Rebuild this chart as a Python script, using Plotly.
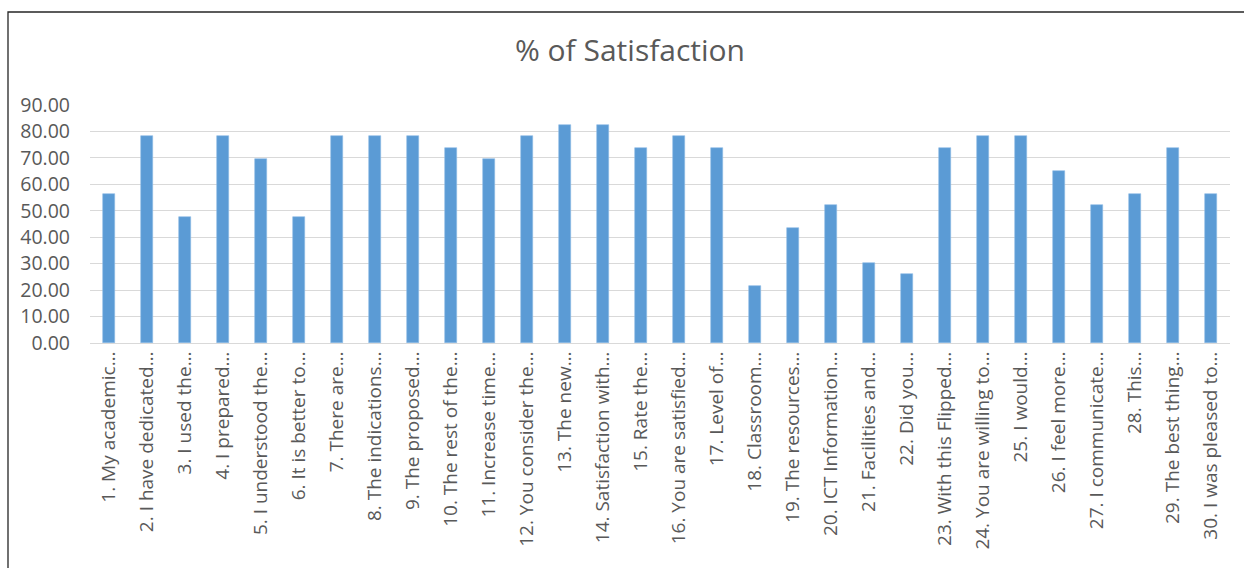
import plotly.graph_objects as go

# Survey items (truncated as shown on the axis) and % satisfaction per item
items = [
    "1. My academic…", "2. I have dedicated…", "3. I used the…", "4. I prepared…",
    "5. I understood the…", "6. It is better to…", "7. There are…", "8. The indications…",
    "9. The proposed…", "10. The rest of the…", "11. Increase time…", "12. You consider the…",
    "13. The new…", "14. Satisfaction with…", "15. Rate the…", "16. You are satisfied…",
    "17. Level of…", "18. Classroom…", "19. The resources…", "20. ICT Information…",
    "21. Facilities and…", "22. Did you…", "23. With this Flipped…", "24. You are willing to…",
    "25. I would…", "26. I feel more…", "27. I communicate…", "28. This…",
    "29. The best thing…", "30. I was pleased to…",
]
satisfaction = [
    56.52, 78.26, 47.83, 78.26, 69.57, 47.83, 78.26, 78.26, 78.26, 73.91,
    69.57, 78.26, 82.61, 82.61, 73.91, 78.26, 73.91, 21.74, 43.48, 52.17,
    30.43, 26.09, 73.91, 78.26, 78.26, 65.22, 52.17, 56.52, 73.91, 56.52,
]
y_ticks = [0, 10, 20, 30, 40, 50, 60, 70, 80, 90]

FONT = "Open Sans"
GREY = "#595959"

fig = go.Figure(
    go.Bar(
        x=list(range(len(items))),
        y=satisfaction,
        width=0.33,
        marker=dict(color="#5B9BD5", line=dict(color="#8DBBE6", width=0.6)),
        hoverinfo="y",
    )
)

W, H = 1244, 568
ml, mr, mt, mb = 90, 14, 105, 225
pw, ph = W - ml - mr, H - mt - mb

fig.update_layout(
    width=W,
    height=H,
    margin=dict(l=ml, r=mr, t=mt, b=mb),
    paper_bgcolor="white",
    plot_bgcolor="white",
    showlegend=False,
    bargap=0,
    title=dict(
        text="% of Satisfaction",
        x=630 / W,
        xanchor="center",
        y=1 - 50 / H,
        yanchor="middle",
        font=dict(family=FONT, size=30, color=GREY),
    ),
    xaxis=dict(
        range=[-0.5, len(items) - 0.5],
        tickmode="array",
        tickvals=list(range(len(items))),
        ticktext=items,
        tickangle=-90,
        tickfont=dict(family=FONT, size=19, color=GREY),
        showgrid=False,
        showline=True,
        linecolor="#D9D9D9",
        linewidth=1,
        ticks="",
        zeroline=False,
    ),
    yaxis=dict(
        range=[0, 90],
        tickmode="array",
        tickvals=y_ticks,
        ticktext=[f"{v:.2f}" for v in y_ticks],
        tickfont=dict(family=FONT, size=19.5, color=GREY),
        showgrid=True,
        gridcolor="#D9D9D9",
        gridwidth=1,
        zeroline=False,
        showline=False,
        ticks="",
        ticklabelstandoff=19,
    ),
)

# Chart frame: left and top edges of the surrounding box
x0 = (8 - ml) / pw
y1 = 1 + (mt - 12) / ph
x1 = 1 + (mr + 5) / pw
y0 = -(mb + 5) / ph
fig.add_shape(
    type="rect", xref="paper", yref="paper",
    x0=x0, x1=x1, y0=y0, y1=y1,
    line=dict(color="#262626", width=1.3),
    fillcolor="rgba(0,0,0,0)",
    layer="below",
)

fig.write_html("out.html")
